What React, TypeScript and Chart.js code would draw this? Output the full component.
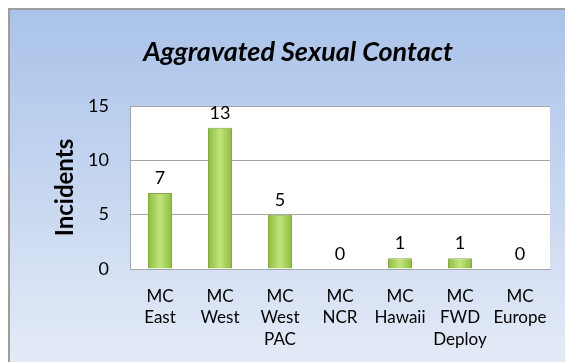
import React, { useEffect, useRef } from "react";
import { Chart, registerables } from "chart.js";

Chart.register(...registerables);

// Incident counts per Marine Corps region
const categories: string[][] = [
  ["MC", "East"],
  ["MC", "West"],
  ["MC", "West", "PAC"],
  ["MC", "NCR"],
  ["MC", "Hawaii"],
  ["MC", "FWD", "Deploy"],
  ["MC", "Europe"],
];
const incidents: number[] = [7, 13, 5, 0, 1, 1, 0];
const yTicks: number[] = [0, 5, 10, 15];

const chartTitle = "Aggravated Sexual Contact";
const yTitle = "Incidents";

const FONT = "Lato, 'DejaVu Sans', sans-serif";
const BAR_FRACTION = 0.4;

// Writes each bar's count above it
const valueLabels = {
  id: "valueLabels",
  afterDatasetsDraw(chart: Chart) {
    const ctx = chart.ctx;
    const meta = chart.getDatasetMeta(0);
    ctx.save();
    ctx.font = `18px ${FONT}`;
    ctx.fillStyle = "#000";
    ctx.textAlign = "center";
    ctx.textBaseline = "alphabetic";
    meta.data.forEach((el: any, i: number) => {
      ctx.fillText(String(incidents[i]), el.x, el.y - 9);
    });
    ctx.restore();
  },
};

function barFill(c: any) {
  const chart = c.chart;
  const xs = chart.scales?.x;
  if (!xs || c.dataIndex === undefined || !isFinite(xs.width)) return "#a4d05a";
  const cx = xs.getPixelForValue(c.dataIndex);
  const half = ((xs.width / categories.length) * BAR_FRACTION) / 2;
  const g = chart.ctx.createLinearGradient(cx - half, 0, cx + half, 0);
  g.addColorStop(0, "#8cbc3c");
  g.addColorStop(0.5, "#c2e47e");
  g.addColorStop(1, "#8cbc3c");
  return g;
}

export default function App() {
  const ref = useRef<HTMLCanvasElement>(null);

  useEffect(() => {
    if (!ref.current) return;
    const chart = new Chart(ref.current, {
      type: "bar",
      data: {
        labels: categories,
        datasets: [
          {
            data: incidents,
            backgroundColor: barFill,
            borderColor: "#86a94e",
            borderWidth: (c: any) => (incidents[c.dataIndex] === 0 ? 0 : 1),
            barPercentage: BAR_FRACTION,
            categoryPercentage: 1,
          },
        ],
      },
      options: {
        responsive: false,
        animation: false,
        layout: { padding: { left: 36, right: 23, top: 0, bottom: 0 } },
        plugins: {
          legend: { display: false },
          tooltip: { enabled: false },
          title: {
            display: true,
            text: chartTitle,
            color: "#000",
            font: { family: FONT, size: 27, weight: "bold", style: "italic" },
            padding: { top: 26, bottom: 37.6 },
          },
        },
        scales: {
          x: {
            grid: { display: false },
            border: { display: true, color: "#a6a6a6", width: 1 },
            ticks: {
              color: "#000",
              font: { family: FONT, size: 17, lineHeight: 1.25 },
              padding: 9,
              maxRotation: 0,
              autoSkip: false,
            },
            afterFit(scale: any) {
              scale.height = 93;
            },
          },
          y: {
            min: 0,
            max: 15,
            afterBuildTicks(scale: any) {
              scale.ticks = yTicks.map((v) => ({ value: v }));
            },
            grid: { color: "#a6a6a6", lineWidth: 1, drawTicks: false },
            border: { display: true, color: "#a6a6a6", width: 1 },
            ticks: {
              color: "#000",
              font: { family: FONT, size: 18 },
              padding: 21,
            },
            title: {
              display: true,
              text: yTitle,
              color: "#000",
              font: { family: FONT, size: 24, weight: "bold" },
              padding: { top: 5, bottom: 0 },
            },
            afterFit(scale: any) {
              scale.width = 84;
            },
          },
        },
      },
      plugins: [
        {
          id: "plotBackground",
          beforeDraw(c: Chart) {
            const { ctx, chartArea } = c;
            ctx.save();
            ctx.fillStyle = "#ffffff";
            ctx.fillRect(chartArea.left, chartArea.top, chartArea.right - chartArea.left, chartArea.bottom - chartArea.top);
            ctx.restore();
          },
        },
        valueLabels,
      ],
    } as any);
    return () => chart.destroy();
  }, []);

  return (
    <div
      style={{
        width: 565,
        height: 354,
        boxSizing: "border-box",
        borderLeft: "2px solid #9d9d9d",
        borderTop: "2px solid #9d9d9d",
        background: "linear-gradient(to bottom, #aac3ea 0%, #c3d4ef 45%, #e4ebf7 100%)",
        overflow: "hidden",
      }}
    >
      <canvas ref={ref} width={563} height={352} style={{ display: "block" }} />
    </div>
  );
}
